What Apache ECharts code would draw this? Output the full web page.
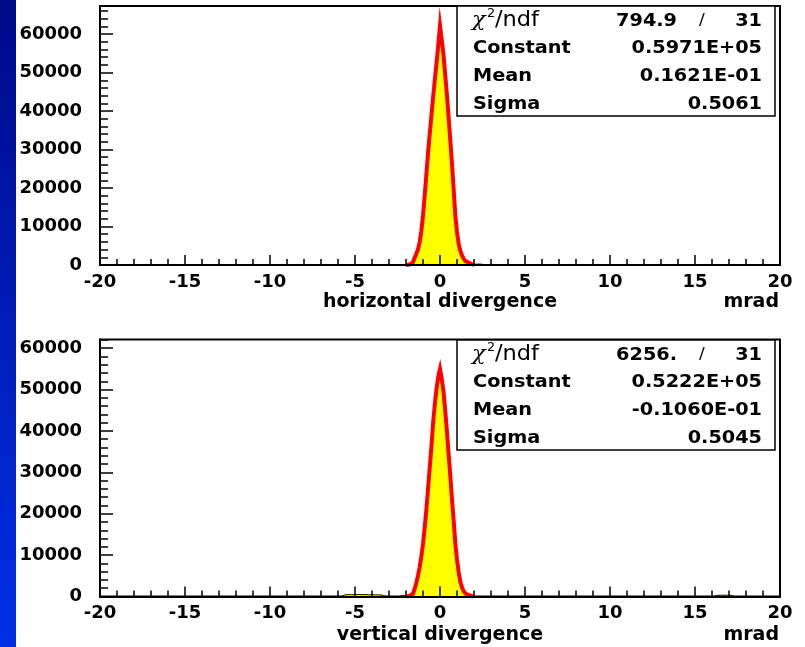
<!DOCTYPE html>
<html>
<head>
<meta charset="utf-8">
<script src="https://cdn.jsdelivr.net/npm/echarts@6/dist/echarts.min.js"></script>
<style>
  html, body { margin: 0; padding: 0; background: #ffffff; }
  #chart { width: 805px; height: 647px; }
</style>
</head>
<body>
<div id="chart"></div>
<script>
// Bin centres (mrad) of the central peak, 0.1 mrad wide bins
const peakCenters = [-1.95, -1.85, -1.75, -1.65, -1.55, -1.45, -1.35, -1.25, -1.15, -1.05,
                     -0.95, -0.85, -0.75, -0.65, -0.55, -0.45, -0.35, -0.25, -0.15, -0.05,
                      0.05,  0.15,  0.25,  0.35,  0.45,  0.55,  0.65,  0.75,  0.85,  0.95,
                      1.05,  1.15,  1.25,  1.35,  1.45,  1.55,  1.65,  1.75,  1.85,  1.95];

// Entries per bin, horizontal divergence
const horizCounts = [40, 120, 300, 600, 1100, 1800, 2800, 4000, 5800, 8700,
                     12800, 18000, 23600, 29300, 34200, 39000, 43800, 48300, 52600, 57200,
                     62200, 58600, 54800, 49800, 44600, 38900, 32800, 26600, 19900, 12900,
                     8600, 5400, 3600, 2400, 1600, 1000, 600, 300, 150, 60];

// Entries per bin, vertical divergence
const vertCounts = [60, 150, 300, 600, 1000, 1700, 3200, 4900, 7000, 9600,
                    12700, 16600, 21100, 26200, 31300, 36400, 42200, 46600, 50300, 53200,
                    55000, 52600, 49700, 45300, 40300, 34800, 29500, 23700, 18600, 12900,
                    8900, 5800, 3500, 2100, 1200, 700, 350, 150, 60, 20];

// Sparse tail bins outside the peak
const horizTailCenters = [2.05, 2.15, 2.25, 2.35, 2.45];
const horizTailCounts  = [200, 150, 250, 120, 180];

const vertTailCenters = [-5.65, -5.55, -5.45, -5.35, -5.25, -5.15, -5.05, -4.95, -4.85, -4.75,
                         -4.65, -4.55, -4.45, -4.35, -4.25, -4.15, -4.05, -3.95, -3.85, -3.75,
                         -3.65, -3.55, -3.45, -2.35, -2.25,
                         16.25, 16.35, 16.45, 16.55, 16.65, 16.75, 16.85, 16.95, 17.05, 17.15];
const vertTailCounts  = [380, 420, 450, 400, 430, 460, 410, 440, 470, 430,
                         450, 420, 460, 440, 410, 430, 400, 420, 390, 410,
                         380, 360, 340, 260, 300,
                         280, 320, 300, 290, 310, 300, 280, 300, 290, 270];

// Axis tick values and labels
const xTickValues = [-20, -15, -10, -5, 0, 5, 10, 15, 20];
const yTickValues = [0, 10000, 20000, 30000, 40000, 50000, 60000];
const yMaxHoriz = 67300;
const yMaxVert  = 62100;

// Fit box contents
const statNames = ['Constant', 'Mean', 'Sigma'];
const horizStats = { chi2: '794.9', ndf: '31', values: ['0.5971E+05', '0.1621E-01', '0.5061'] };
const vertStats  = { chi2: '6256.', ndf: '31', values: ['0.5222E+05', '-0.1060E-01', '0.5045'] };

const xTitles = ['horizontal divergence', 'vertical divergence'];
const unitLabel = 'mrad';

const BIN = 0.1;
const FONT = '"DejaVu Sans", "Liberation Sans", sans-serif';
const WIDE = 1.07; // horizontal stretch of the fit-box lettering

// Step outline points for a run of contiguous bins, closed to the baseline
function stepPoints(centers, counts) {
  const pts = [[+(centers[0] - BIN / 2).toFixed(3), 0]];
  centers.forEach((c, i) => pts.push([+(c - BIN / 2).toFixed(3), counts[i]]));
  pts.push([+(centers[centers.length - 1] + BIN / 2).toFixed(3), 0]);
  return pts;
}

// Full histogram over [-20, 20]: empty bins plus the filled ones
function fullHistogram(groups) {
  const n = 400;
  const vals = new Array(n).fill(0);
  groups.forEach(([centers, counts]) => {
    centers.forEach((c, i) => {
      const k = Math.round((c + 20) / BIN - 0.5);
      if (k >= 0 && k < n) vals[k] = counts[i];
    });
  });
  const pts = [];
  for (let k = 0; k < n; k++) pts.push([+(-20 + k * BIN).toFixed(3), vals[k]]);
  pts.push([20, 0]);
  return pts;
}

const grids = [
  { left: 100, right: 25, top: 6, height: 259 },
  { left: 100, right: 25, top: 339.5, height: 257 }
];

function xAxisFor(gi, labelMargin) {
  return {
    type: 'value', gridIndex: gi, min: -20, max: 20, interval: 5, z: 10,
    axisLine: { show: true, onZero: false, lineStyle: { color: '#000', width: 2 } },
    axisTick: { show: true, inside: true, length: 10, lineStyle: { color: '#000', width: 1.5 } },
    minorTick: { show: true, splitNumber: 5, length: 6, lineStyle: { color: '#000', width: 1.5 } },
    splitLine: { show: false },
    axisLabel: {
      margin: labelMargin, color: '#000', fontFamily: FONT, fontWeight: 'bold', fontSize: 18,
      formatter: v => (xTickValues.indexOf(v) >= 0 ? String(v) : '')
    }
  };
}

function yAxesFor(gi, max) {
  return [
    {
      type: 'value', gridIndex: gi, min: 0, max: max, interval: 10000, position: 'left', z: 10,
      axisLine: { show: true, onZero: false, lineStyle: { color: '#000', width: 2 } },
      axisTick: { show: true, inside: true, length: 13, lineStyle: { color: '#000', width: 1.5 } },
      splitLine: { show: false },
      axisLabel: {
        margin: 18, color: '#000', fontFamily: FONT, fontWeight: 'bold', fontSize: 18,
        showMaxLabel: false,
        formatter: v => (yTickValues.indexOf(v) >= 0 ? String(v) : '')
      }
    },
    {
      type: 'value', gridIndex: gi, min: 0, max: max, interval: 2000, position: 'left', z: 10,
      axisLine: { show: false, onZero: false },
      axisTick: { show: true, inside: true, length: 8, lineStyle: { color: '#000', width: 1.5 } },
      splitLine: { show: false },
      axisLabel: { show: false }
    }
  ];
}

function histSeries(xi, yi, centers, counts, tails) {
  return [
    {
      type: 'line', xAxisIndex: xi, yAxisIndex: yi, step: 'end', symbol: 'none',
      sampling: false, z: 2, silent: true,
      data: fullHistogram([[centers, counts], tails]),
      lineStyle: { color: '#000', width: 1 },
      areaStyle: { color: '#ffff00', opacity: 1 }
    },
    {
      type: 'line', xAxisIndex: xi, yAxisIndex: yi, step: 'end', symbol: 'none',
      sampling: false, z: 3, silent: true,
      data: stepPoints(centers, counts),
      lineStyle: { color: '#ff0000', width: 4, join: 'miter' }
    }
  ];
}

function boxText(x, y, text, font, align) {
  return { type: 'text', z: 101, x: x, y: y, scaleX: WIDE,
           style: { text: text, fill: '#000', font: font, align: align, verticalAlign: 'middle' } };
}

function statBox(top, stats) {
  const els = [];
  const left = 457, right = 775, h = 110;
  els.push({ type: 'rect', z: 100, shape: { x: left, y: top, width: right - left, height: h },
             style: { fill: '#fff', stroke: '#000', lineWidth: 1.5 } });
  const rowY = [top + 15, top + 42, top + 70, top + 98];
  // chi-square / ndf row
  els.push(boxText(472, rowY[0], 'χ', 'italic 21px "DejaVu Serif", serif', 'left'));
  els.push(boxText(487, rowY[0] - 7, '2', '12px ' + FONT, 'left'));
  els.push(boxText(495, rowY[0], '/ndf', '21px ' + FONT, 'left'));
  els.push(boxText(677, rowY[0], stats.chi2, 'bold 18px ' + FONT, 'right'));
  els.push(boxText(702, rowY[0], '/', '16px ' + FONT, 'center'));
  els.push(boxText(762, rowY[0], stats.ndf, 'bold 18px ' + FONT, 'right'));
  statNames.forEach((name, i) => {
    els.push(boxText(473, rowY[i + 1], name, 'bold 18px ' + FONT, 'left'));
    els.push(boxText(762, rowY[i + 1], stats.values[i], 'bold 18px ' + FONT, 'right'));
  });
  return els;
}

function axisTitles(yc, title) {
  return [
    { type: 'text', z: 50, x: 440, y: yc,
      style: { text: title, fill: '#000', font: 'bold 19px ' + FONT, align: 'center', verticalAlign: 'middle' } },
    { type: 'text', z: 50, x: 779, y: yc,
      style: { text: unitLabel, fill: '#000', font: 'bold 19px ' + FONT, align: 'right', verticalAlign: 'middle' } }
  ];
}

const chart = echarts.init(document.getElementById('chart'), null, { renderer: 'canvas' });

const option = {
  animation: false,
  backgroundColor: '#ffffff',
  grid: grids.map(g => Object.assign({ show: true, borderColor: '#000', borderWidth: 2, backgroundColor: 'transparent' }, g)),
  xAxis: [xAxisFor(0, 8), xAxisFor(1, 8)],
  yAxis: [...yAxesFor(0, yMaxHoriz), ...yAxesFor(1, yMaxVert)],
  series: [
    ...histSeries(0, 0, peakCenters, horizCounts, [horizTailCenters, horizTailCounts]),
    ...histSeries(1, 2, peakCenters, vertCounts, [vertTailCenters, vertTailCounts])
  ],
  graphic: [
    { type: 'rect', z: 0, shape: { x: 0, y: 0, width: 16, height: 647 },
      style: { fill: new echarts.graphic.LinearGradient(0, 0, 0, 1, [
        { offset: 0, color: '#000a88' }, { offset: 1, color: '#0030e6' }]) } },
    ...statBox(6, horizStats),
    ...statBox(340, vertStats),
    ...axisTitles(302, xTitles[0]),
    ...axisTitles(635, xTitles[1])
  ]
};

chart.setOption(option);
</script>
</body>
</html>
